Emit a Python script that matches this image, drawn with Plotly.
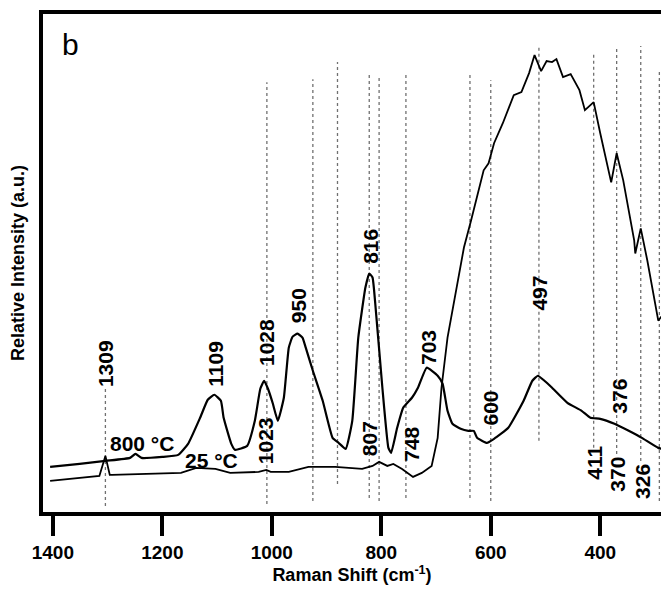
import plotly.graph_objects as go

# 800 C spectrum (Raman shift cm-1, relative intensity a.u.)
hot_shift = [1405, 1351, 1304, 1259, 1249, 1238, 1200, 1171, 1153, 1131, 1117, 1105, 1093, 1088, 1074,
             1067, 1045, 1031, 1021, 1014, 1007, 998, 989, 978, 969, 962, 953, 944, 938, 925, 907,
             889, 878, 865, 853, 842, 829, 822, 816, 811, 798, 787, 782, 771, 760, 744, 733, 717,
             697, 688, 679, 670, 655, 641, 631, 625, 607, 594, 568, 540, 524, 514, 502, 488, 460,
             434, 418, 400, 374, 348, 324, 294, 272]
hot_int = [45, 48, 51, 54, 58, 54, 55, 57, 68, 94, 112, 117, 111, 94, 68,
           62, 66, 91, 123, 131, 123, 108, 91, 114, 164, 175, 178, 174, 164, 141, 111,
           74, 69, 63, 91, 174, 224, 238, 234, 208, 124, 64, 59, 84, 104, 114, 124, 144,
           136, 128, 101, 88, 83, 81, 81, 74, 69, 73, 84, 111, 131, 136, 131, 124, 109,
           101, 94, 93, 88, 81, 74, 64, 61]

# 25 C spectrum
cold_shift = [1405, 1315, 1304, 1296, 1292, 1235, 1166, 1138, 1103, 1076, 1024, 1010, 1002, 969, 933,
              884, 835, 816, 804, 789, 778, 762, 742, 726, 708, 697, 690, 679, 663, 649, 636, 627,
              613, 604, 594, 578, 558, 544, 530, 520, 508, 498, 488, 480, 468, 454, 438, 428, 412,
              400, 380, 370, 358, 338, 336, 326, 314, 294, 284, 272]
cold_int = [31, 36, 56, 37, 37, 38, 39, 44, 43, 39, 40, 42, 40, 40, 45,
            45, 43, 46, 50, 46, 48, 43, 35, 39, 46, 74, 124, 174, 224, 264, 291, 311,
            341, 348, 368, 388, 416, 419, 438, 456, 440, 450, 449, 452, 434, 437, 421, 401, 409,
            378, 329, 358, 331, 271, 258, 283, 251, 191, 198, 201]

# dotted reference lines
ref_x = [1304, 1009, 925, 880, 822, 804, 755, 638, 600, 512, 412, 370, 326, 292]
ref_top = [123, 429, 432, 449, 438, 434, 437, 438, 431, 464, 458, 462, 465, 442]
ref_bottom = [6, 8, 11, 28, 14, 11, 14, 14, 11, 71, 64, 58, 51, 11]

# peak labels
peak_text = ["1309", "1109", "1028", "1023", "950", "816", "807", "748", "703",
             "600", "497", "376", "411", "370", "326"]
peak_x = [1304, 1102, 1010, 1010, 951, 820, 820, 744, 714, 600, 510, 364, 410, 368, 322]
peak_y = [148, 148, 169, 71, 206, 265, 73, 68, 164, 104, 218, 116, 49, 38, 31]

temp_text = ["800 °C", "25 °C"]
temp_x = [1237, 1110]
temp_y = [68, 51]

x_ticks = [1400, 1200, 1000, 800, 600, 400]

FONT = "Arial, Liberation Sans, sans-serif"

fig = go.Figure()

lx, ly = [], []
for x, t, b in zip(ref_x, ref_top, ref_bottom):
    lx += [x, x, None]
    ly += [b, t, None]
fig.add_trace(go.Scatter(x=lx, y=ly, mode="lines",
                         line=dict(color="#707070", width=1.3, dash="dot"),
                         hoverinfo="skip", showlegend=False))

fig.add_trace(go.Scatter(x=hot_shift, y=hot_int, mode="lines", name="800 °C",
                         line=dict(color="black", width=2.2, shape="spline", smoothing=0.4),
                         showlegend=False))
fig.add_trace(go.Scatter(x=cold_shift, y=cold_int, mode="lines", name="25 °C",
                         line=dict(color="black", width=1.8), showlegend=False))

for txt, x, y in zip(peak_text, peak_x, peak_y):
    fig.add_annotation(x=x, y=y, text=txt, textangle=-90, showarrow=False,
                       xanchor="center", yanchor="middle",
                       font=dict(family=FONT, size=21, color="black", weight="bold"))

for txt, x, y in zip(temp_text, temp_x, temp_y):
    fig.add_annotation(x=x, y=y, text=txt, showarrow=False,
                       xanchor="center", yanchor="middle",
                       font=dict(family=FONT, size=21, color="black", weight="bold"))

fig.add_annotation(x=0.044, y=0.938, xref="paper", yref="paper", text="b",
                   showarrow=False, xanchor="center", yanchor="middle",
                   font=dict(family=FONT, size=30, color="black"))

fig.update_layout(
    width=661, height=591,
    margin=dict(l=43, r=0, t=14, b=79),
    paper_bgcolor="white", plot_bgcolor="white",
    font=dict(family=FONT, color="black"),
    xaxis=dict(
        range=[1418, 289], tickvals=x_ticks, ticks="outside", ticklen=20, tickwidth=4,
        tickcolor="black", showline=True, linewidth=4, linecolor="black", mirror=True,
        showgrid=False, zeroline=False, automargin=False,
        tickfont=dict(family=FONT, size=19, weight="bold"),
        title=dict(text="Raman Shift (cm<sup>-1</sup>)", standoff=6,
                   font=dict(family=FONT, size=18, weight="bold")),
    ),
    yaxis=dict(
        range=[0, 497], showticklabels=False, ticks="", showline=True, linewidth=4,
        linecolor="black", mirror=False, showgrid=False, zeroline=False, automargin=False,
        title=dict(text="Relative Intensity (a.u.)", standoff=11,
                   font=dict(family=FONT, size=18, weight="bold")),
    ),
)

# page has a default 8px body margin; drop it so the figure sits at the window corner
fig.write_html("out.html", config={"displayModeBar": False},
               post_script="document.body.style.margin='0';document.body.style.overflow='hidden';")
